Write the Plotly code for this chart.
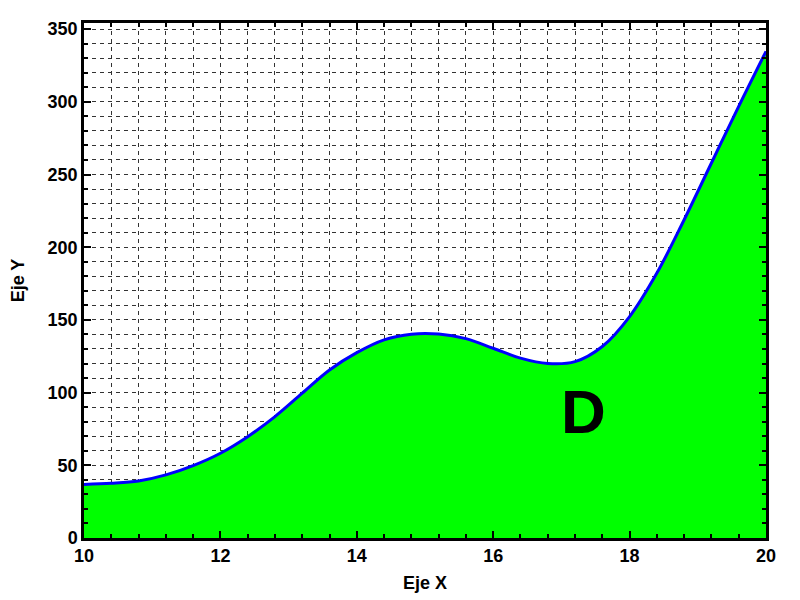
import plotly.graph_objects as go

x_vals = [10.0, 10.4, 10.8, 11.2, 11.6, 12.0, 12.4, 12.8, 13.2, 13.6, 14.0, 14.4, 14.8,
          15.2, 15.6, 16.0, 16.4, 16.8, 17.2, 17.6, 18.0, 18.4, 18.8, 19.2, 19.6, 20.0]
y_vals = [36.8, 37.6, 39.2, 43.4, 49.8, 58.3, 69.7, 83.5, 99.6, 115.6, 127.5, 136.3, 140.2,
          140.3, 137.1, 130.5, 123.7, 120.0, 121.3, 131.7, 152.3, 182.2, 218.9, 257.9, 296.9, 334.7]

label_text = "D"
label_x = 17.33
label_y = 86.7

FONT = "Liberation Sans, Arial, Helvetica, sans-serif"

fig = go.Figure()
fig.add_trace(go.Scatter(
    x=x_vals, y=y_vals, mode="lines",
    line=dict(color="#0000ff", width=3, shape="spline", smoothing=1.0),
    fill="tozeroy", fillcolor="#00ff00",
    showlegend=False, hoverinfo="skip",
))

fig.add_annotation(x=label_x, y=label_y, text="<b>%s</b>" % label_text, showarrow=False,
                   font=dict(family=FONT, size=62, color="black"))

axis_common = dict(
    showline=True, linecolor="black", linewidth=2.5, mirror="allticks",
    ticks="inside", ticklen=7, tickwidth=2, tickcolor="black",
    showgrid=True, gridcolor="#333333", gridwidth=1, griddash="4px,4px",
    zeroline=False, automargin=False,
    tickfont=dict(family=FONT, size=18, color="black", weight="bold"),
)

minor_common = dict(ticks="inside", ticklen=4, tickwidth=1.5, tickcolor="black",
                    showgrid=True, gridcolor="#333333", gridwidth=1, griddash="4px,4px")

fig.update_xaxes(
    range=[10, 20], dtick=2, tick0=10,
    minor=dict(dtick=0.4, tick0=10, **minor_common),
    title=dict(text="<b>Eje X</b>", font=dict(family=FONT, size=18, color="black"), standoff=12),
    **axis_common,
)
fig.update_yaxes(
    range=[0, 354.2], dtick=50, tick0=0,
    minor=dict(dtick=10, tick0=0, **minor_common),
    title=dict(text="<b>Eje Y</b>", font=dict(family=FONT, size=18, color="black"), standoff=20),
    **axis_common,
)

fig.update_layout(
    width=792, height=592,
    margin=dict(l=76, r=34, t=15, b=62),
    paper_bgcolor="white", plot_bgcolor="white",
    font=dict(family=FONT, color="black"),
)

fig.write_html("out.html")
